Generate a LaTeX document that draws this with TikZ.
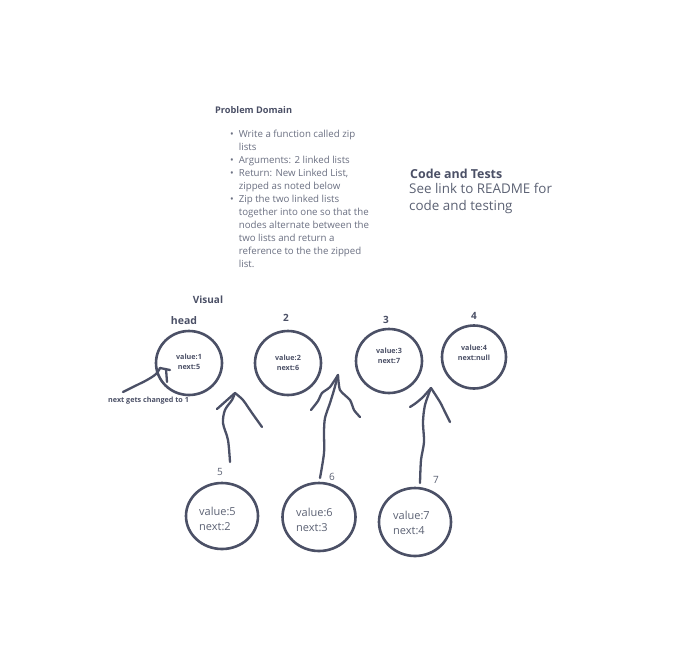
\documentclass[tikz,border=0pt]{standalone}
\usepackage{fontspec}
\setmainfont{Open Sans}
\usetikzlibrary{shapes.geometric}
\definecolor{ink}{HTML}{4B5066}
\definecolor{txt}{HTML}{5C6274}
\definecolor{lighttxt}{HTML}{6B7082}
\begin{document}
\begin{tikzpicture}[x=1pt,y=-1pt,
  ring/.style={draw=ink,line width=2.6pt,ellipse,inner sep=0pt},
  stroke/.style={draw=ink,line width=2.3pt,line cap=round,line join=round},
  intext/.style={font=\bfseries\fontsize{7.2}{10}\selectfont,text=ink,align=center},
  bigtext/.style={font=\fontsize{11}{15}\selectfont,text=txt,align=left,anchor=west,inner sep=0pt},
  numlab/.style={font=\bfseries\fontsize{10}{12}\selectfont,text=ink},
  numlab2/.style={font=\fontsize{10}{12}\selectfont,text=txt}]
\useasboundingbox (0,0) rectangle (693,659);
\fill[white] (0,0) rectangle (693,659);

% Problem domain
\node[anchor=west,inner sep=0pt,font=\bfseries\fontsize{9.2}{11}\selectfont,text=ink] (pdtitle) at (215,110) {Problem Domain};
\node[anchor=north west,inner sep=0pt,font=\fontsize{9.7}{13}\selectfont,text=lighttxt] (pdlist) at (230,128.5)
{\begin{tabular}{@{}l@{\hspace{5pt}}l@{}}
•& Write a function called zip\\
 & lists\\
•& Arguments: 2 linked lists\\
•& Return: New Linked List,\\
 & zipped as noted below\\
•& Zip the two linked lists\\
 & together into one so that the\\
 & nodes alternate between the\\
 & two lists and return a\\
 & reference to the the zipped\\
 & list.
\end{tabular}};

% Code and tests
\node[anchor=west,inner sep=0pt,font=\bfseries\fontsize{12.4}{14}\selectfont,text=ink] (cttitle) at (410,174) {Code and Tests};
\node[anchor=north west,inner sep=0pt,align=left,font=\fontsize{13.4}{17.5}\selectfont,text=txt] (cttext) at (409,183) {See link to README for\\code and testing};

% Visual
\node[numlab] (visual) at (208,300) {Visual};
\node[numlab,font=\bfseries\fontsize{10.5}{12}\selectfont] (headlab) at (184,321) {head};
\node[numlab] (l2) at (286,318) {2};
\node[numlab] (l3) at (386,320) {3};
\node[numlab] (l4) at (474,316) {4};
\node[numlab2] (l5) at (220,472) {5};
\node[numlab2] (l6) at (332,477) {6};
\node[numlab2] (l7) at (436,480) {7};

% top row circles
\node[ring,minimum width=66pt,minimum height=64pt] (c1) at (189,363) {};
\node[ring,minimum width=66pt,minimum height=64pt] (c2) at (288,363) {};
\node[ring,minimum width=66pt,minimum height=64pt] (c3) at (389,361) {};
\node[ring,minimum width=64pt,minimum height=63pt] (c4) at (474,357) {};
\node[intext] (t1) at (189,362) {value:1\\next:5};
\node[intext] (t2) at (288,363) {value:2\\next:6};
\node[intext] (t3) at (389,356) {value:3\\next:7};
\node[intext] (t4) at (474,353) {value:4\\next:null};

% bottom row circles
\node[ring,minimum width=72pt,minimum height=66pt] (c5) at (222,516) {};
\node[ring,minimum width=73pt,minimum height=68pt] (c6) at (319,517) {};
\node[ring,minimum width=72pt,minimum height=68pt] (c7) at (415,522) {};
\node[bigtext] (t5) at (199,519) {value:5\\next:2};
\node[bigtext] (t6) at (296,520) {value:6\\next:3};
\node[bigtext] (t7) at (393,523) {value:7\\next:4};

% arrow tips
\coordinate (tipA) at (235,393);
\coordinate (tipB) at (338,375);
\coordinate (tipC) at (431,388);
\coordinate (tipD) at (160,368);

% arrow from 5 to head
\draw[stroke] plot[smooth,tension=0.5] coordinates {(230,462) (228,440) (223,423) (225,410) (232,400) (tipA)};
\draw[stroke] (tipA) -- (217,409);
\draw[stroke] plot[smooth,tension=0.4] coordinates {(tipA) (243,400) (252,413) (262,427)};

% arrow from 6 to 2
\draw[stroke] plot[smooth,tension=0.5] coordinates {(320,478) (324,453) (324,432) (325,418) (330,403) (334,390) (tipB)};
\draw[stroke] plot[smooth,tension=0.4] coordinates {(tipB) (330,387) (322,393) (318,401) (311,410)};
\draw[stroke] plot[smooth,tension=0.4] coordinates {(tipB) (340,390) (350,400) (354,410) (360,417)};

% arrow from 7 to 3
\draw[stroke] plot[smooth,tension=0.5] coordinates {(420,483) (421,460) (424,442) (423,422) (425,405) (tipC)};
\draw[stroke] plot[smooth,tension=0.4] coordinates {(tipC) (423,397) (416,403) (410,407)};
\draw[stroke] plot[smooth,tension=0.4] coordinates {(tipC) (440,402) (445,412) (450,422)};

% next gets changed arrow
\draw[stroke] plot[smooth,tension=0.6] coordinates {(123,392) (135,386) (147,380) (156,374) (tipD)};
\draw[stroke] (tipD) -- (170,370);
\draw[stroke] (166,369) -- (167,382);
\node[font=\bfseries\fontsize{7.2}{8}\selectfont,text=ink,anchor=west,inner sep=0pt] (note) at (108,401) {next gets changed to 1};
\end{tikzpicture}
\end{document}
